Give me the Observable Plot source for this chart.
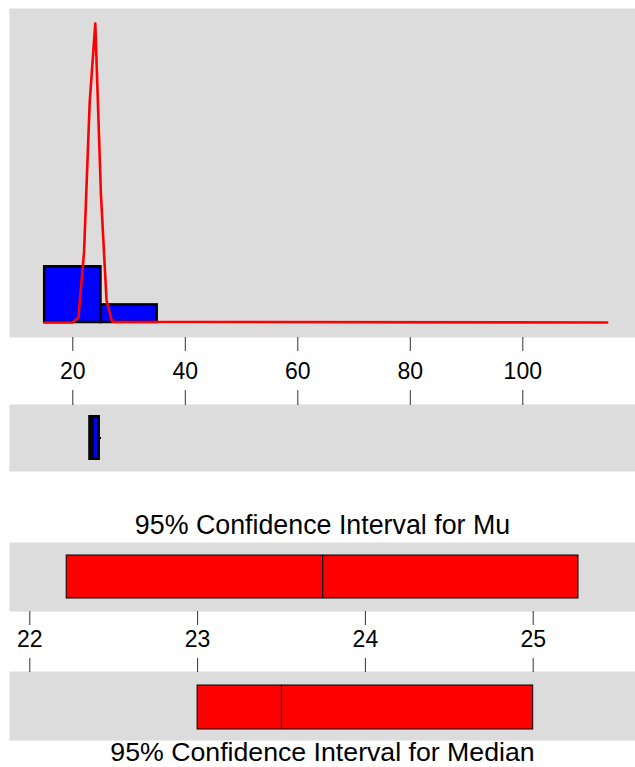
<!DOCTYPE html>
<html><head><meta charset="utf-8">
<script src="https://cdn.jsdelivr.net/npm/d3@7"></script>
<script src="https://cdn.jsdelivr.net/npm/@observablehq/plot@0.6"></script>
<style>
html,body{margin:0;padding:0;background:#fff;}
#root{position:relative;width:635px;height:767px;overflow:hidden;}
#root > svg{position:absolute;left:0;}
</style></head><body><div id="root"></div>
<script>
// ---- data ----
const histBreaks = [15, 25, 35];
const histDensity = [0.076, 0.024];
const curveX = [15, 20, 21, 22, 23, 24, 25, 26, 27, 115];
const curveY = [0, 0, 0.007, 0.096, 0.300, 0.408, 0.175, 0.030, 0.001, 0];
const histTicks = [20, 40, 60, 80, 100];
const boxNames = ["min", "q1", "median", "q3", "max"];
const boxValues = [23.0, 23.1, 23.45, 24.65, 25.1];
const ciMuNames = ["lower", "mean", "upper"];
const ciMuValues = [22.22, 23.745, 25.27];
const ciMedNames = ["lower", "median", "upper"];
const ciMedValues = [23.0, 23.5, 25.0];
const ciTicks = [22, 23, 24, 25];
const titleMu = "95% Confidence Interval for Mu";
const titleMedian = "95% Confidence Interval for Median";

// ---- tables built from the arrays ----
const bins = histDensity.map((d, i) => ({x1: histBreaks[i], x2: histBreaks[i + 1], density: d}));
const curve = curveX.map((x, i) => ({x, y: curveY[i]}));
const box = Object.fromEntries(boxNames.map((n, i) => [n, boxValues[i]]));
const ciMu = Object.fromEntries(ciMuNames.map((n, i) => [n, ciMuValues[i]]));
const ciMed = Object.fromEntries(ciMedNames.map((n, i) => [n, ciMedValues[i]]));

const FONT = "'Liberation Sans', Arial, Helvetica, sans-serif";
const GRAY = "#dcdcdc";
const root = document.getElementById("root");
function place(svg, top) { svg.style.top = top + "px"; root.appendChild(svg); }
const baseStyle = {fontFamily: FONT, color: "black", background: "transparent", overflow: "visible"};

// x scale shared by histogram and boxplot
const histX = {type: "linear", domain: [10, 120], range: [16.05, 634.8]};

// Panel 1: histogram + density curve
place(Plot.plot({
  width: 635, height: 385,
  marginTop: 8, marginBottom: 48, marginLeft: 9, marginRight: 0,
  style: baseStyle,
  x: histX,
  y: {domain: [0, 0.42], range: [322, 14.14], axis: null},
  marks: [
    Plot.frame({fill: GRAY, stroke: "none"}),
    Plot.rectY(bins, {x1: "x1", x2: "x2", y1: 0, y2: "density", fill: "#0000ff", stroke: "black", strokeWidth: 2.5}),
    Plot.line(curve, {x: "x", y: "y", stroke: "#ff0000", strokeWidth: 2.6}),
    Plot.axisX(histTicks, {anchor: "bottom", tickSize: 14, tickPadding: 11, fontSize: 23, stroke: "#333", tickFormat: d => String(d)})
  ]
}), 0);

// Panel 2: boxplot
place(Plot.plot({
  width: 635, height: 86,
  marginTop: 19, marginBottom: 0, marginLeft: 9, marginRight: 0,
  style: baseStyle,
  x: histX,
  y: {type: "band", domain: ["box"], range: [31.5, 73.5], padding: 0, round: false, axis: null},
  marks: [
    Plot.frame({fill: GRAY, stroke: "none"}),
    Plot.ruleY(["box"], {y: d => d, x1: box.min, x2: box.q1, stroke: "black", strokeWidth: 2}),
    Plot.ruleY(["box"], {y: d => d, x1: box.q3, x2: box.max, stroke: "black", strokeWidth: 2}),
    Plot.barX(["box"], {y: d => d, x1: box.q1, x2: box.q3, fill: "#0000ff", stroke: "black", strokeWidth: 3}),
    Plot.tickX(["box"], {y: d => d, x: box.median, stroke: "black", strokeWidth: 3}),
    Plot.axisX(histTicks, {anchor: "top", tickSize: 15, stroke: "#333", tickFormat: () => ""})
  ]
}), 385);

const ciX = {type: "linear", domain: [22, 25], range: [29.3, 532.7]};

// Panel 3: CI for Mu
place(Plot.plot({
  width: 635, height: 150,
  marginTop: 42, marginBottom: 39, marginLeft: 9, marginRight: 0,
  style: baseStyle,
  x: ciX,
  y: {type: "band", domain: ["mu"], range: [55, 98], padding: 0, round: false, axis: null},
  marks: [
    Plot.frame({fill: GRAY, stroke: "none"}),
    Plot.barX(["mu"], {y: d => d, x1: ciMu.lower, x2: ciMu.upper, fill: "#ff0000", stroke: "black", strokeWidth: 1}),
    Plot.tickX(["mu"], {y: d => d, x: ciMu.mean, stroke: "black", strokeWidth: 1.2}),
    Plot.text([titleMu], {frameAnchor: "top", lineAnchor: "middle", dy: -17, fontSize: 26.8, fill: "black"}),
    Plot.axisX(ciTicks, {anchor: "bottom", tickSize: 14, tickPadding: 5, fontSize: 23, stroke: "#333", tickFormat: d => String(d)})
  ]
}), 500);

// Panel 4: CI for Median
place(Plot.plot({
  width: 635, height: 117,
  marginTop: 21, marginBottom: 27, marginLeft: 9, marginRight: 0,
  style: baseStyle,
  x: ciX,
  y: {type: "band", domain: ["median"], range: [35, 79], padding: 0, round: false, axis: null},
  marks: [
    Plot.frame({fill: GRAY, stroke: "none"}),
    Plot.barX(["median"], {y: d => d, x1: ciMed.lower, x2: ciMed.upper, fill: "#ff0000", stroke: "black", strokeWidth: 1}),
    Plot.tickX(["median"], {y: d => d, x: ciMed.median, stroke: "black", strokeWidth: 1.2}),
    Plot.text([titleMedian], {frameAnchor: "bottom", lineAnchor: "middle", dy: 12, fontSize: 26.7, fill: "black"}),
    Plot.axisX(ciTicks, {anchor: "top", tickSize: 14, stroke: "#333", tickFormat: () => ""})
  ]
}), 650);
</script></body></html>
